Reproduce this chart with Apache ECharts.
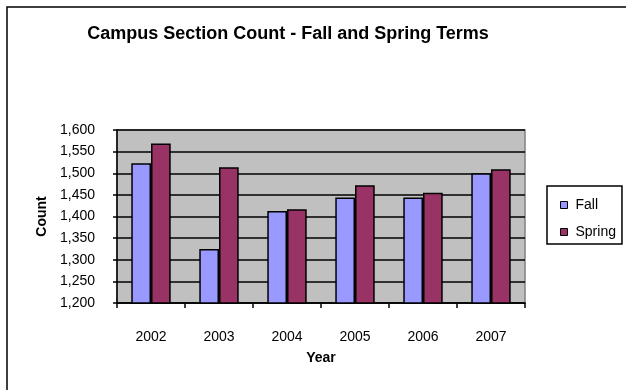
<!DOCTYPE html>
<html>
<head>
<meta charset="utf-8">
<script src="https://cdn.jsdelivr.net/npm/echarts@6/dist/echarts.min.js"></script>
<style>
html,body{margin:0;padding:0;background:#fff;}
#chart{width:626px;height:390px;}
</style>
</head>
<body>
<div id="chart"></div>
<script>
// Section counts by academic year
const years = ['2002', '2003', '2004', '2005', '2006', '2007'];
const fallCounts = [1523, 1325, 1413, 1444, 1444, 1500];
const springCounts = [1569, 1514, 1417, 1472, 1455, 1509];
const yTicks = { min: 1200, max: 1600, step: 50 };

const FONT = '"Liberation Sans", Arial, sans-serif';
const chart = echarts.init(document.getElementById('chart'), null, { renderer: 'canvas' });

chart.setOption({
  animation: false,
  backgroundColor: '#ffffff',
  textStyle: { fontFamily: FONT },
  graphic: [
    {
      type: 'rect',
      shape: { x: 7, y: 7, width: 640, height: 400 },
      style: { fill: 'none', stroke: '#000', lineWidth: 1.5 },
      silent: true
    }
  ],
  title: {
    text: 'Campus Section Count - Fall and Spring Terms',
    left: 283,
    textAlign: 'center',
    top: 20,
    textStyle: { fontFamily: FONT, fontSize: 18, fontWeight: 'bold', color: '#000' }
  },
  legend: {
    orient: 'vertical',
    left: 547,
    top: 186,
    padding: [12, 6, 5, 13],
    itemWidth: 7,
    itemHeight: 7,
    itemGap: 13,
    borderColor: '#000',
    borderWidth: 1.5,
    icon: 'rect',
    textStyle: { fontFamily: FONT, fontSize: 14, color: '#000', padding: [0, 0, 0, 3] },
    data: [
      { name: 'Fall', itemStyle: { borderColor: '#000', borderWidth: 1 } },
      { name: 'Spring', itemStyle: { borderColor: '#000', borderWidth: 1 } }
    ]
  },
  grid: {
    left: 117, right: 101, top: 130, height: 173,
    show: true,
    backgroundColor: '#C0C0C0',
    borderColor: '#808080',
    borderWidth: 1.5
  },
  xAxis: {
    type: 'category',
    data: years,
    name: 'Year',
    nameLocation: 'middle',
    nameGap: 48,
    nameTextStyle: { fontFamily: FONT, fontSize: 14, fontWeight: 'bold', color: '#000' },
    axisLine: { lineStyle: { color: '#000', width: 1.5 } },
    axisTick: { show: true, length: 5, lineStyle: { color: '#000', width: 1.5 } },
    axisLabel: { margin: 27, fontFamily: FONT, fontSize: 14, color: '#000' },
    splitLine: { show: false }
  },
  yAxis: {
    type: 'value',
    min: yTicks.min,
    max: yTicks.max,
    interval: yTicks.step,
    name: 'Count',
    nameLocation: 'middle',
    nameGap: 67,
    nameTextStyle: { fontFamily: FONT, fontSize: 14, fontWeight: 'bold', color: '#000' },
    axisLine: { show: true, lineStyle: { color: '#000', width: 1.5 } },
    axisTick: { show: true, length: 4, lineStyle: { color: '#000', width: 1.5 } },
    axisLabel: {
      margin: 22,
      fontFamily: FONT, fontSize: 14, color: '#000',
      formatter: v => v.toLocaleString('en-US')
    },
    splitLine: { show: true, lineStyle: { color: '#000', width: 1.5 } }
  },
  series: [
    {
      name: 'Fall',
      type: 'bar',
      data: fallCounts,
      barGap: '0%',
      barCategoryGap: '42%',
      itemStyle: { color: '#9999FF', borderColor: '#000', borderWidth: 1.5 }
    },
    {
      name: 'Spring',
      type: 'bar',
      data: springCounts,
      itemStyle: { color: '#993366', borderColor: '#000', borderWidth: 1.5 }
    }
  ]
});
</script>
</body>
</html>
